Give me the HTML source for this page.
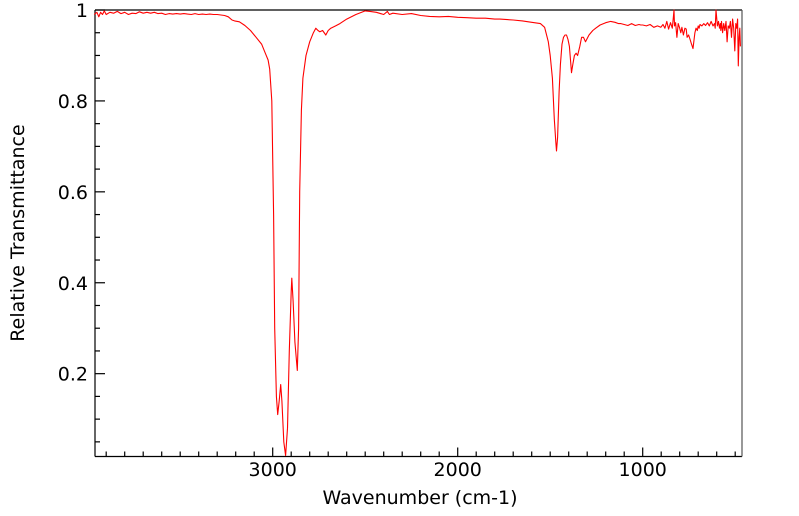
<!DOCTYPE html>
<html><head><meta charset="utf-8"><style>
html,body{margin:0;padding:0;background:#fff;}
svg{display:block;font-family:"DejaVu Sans","Liberation Sans",sans-serif;}
</style></head><body>
<svg id="chart" width="799" height="516">
<g id="axes"></g>
<path id="series" fill="none" stroke="#ff0000" stroke-width="1.1" stroke-linejoin="round"></path>
<text x="420" y="504" text-anchor="middle" font-size="19">Wavenumber (cm-1)</text>
<text transform="translate(24,233) rotate(-90)" text-anchor="middle" font-size="19">Relative Transmittance</text>
</svg>
<script>
const wavenumbers=[3965,3950,3940,3930,3920,3910,3900,3880,3860,3840,3820,3800,3780,3760,3740,3720,3700,3680,3660,3640,3620,3600,3580,3560,3540,3520,3500,3480,3460,3440,3420,3400,3380,3360,3340,3320,3300,3280,3260,3240,3220,3206,3180,3150,3120,3090,3060,3040,3025,3016,3005,2995,2989,2980,2973,2965,2957,2950,2940,2930,2920,2910,2900,2897,2890,2880,2867,2860,2854,2845,2837,2820,2800,2780,2767,2755,2745,2730,2713,2700,2686,2660,2637,2600,2550,2500,2474,2440,2400,2380,2369,2350,2300,2250,2200,2152,2100,2050,2000,1950,1900,1850,1800,1772,1700,1650,1600,1553,1530,1510,1500,1488,1478,1470,1466,1460,1452,1445,1436,1428,1420,1412,1404,1396,1390,1385,1378,1369,1360,1352,1340,1330,1320,1309,1290,1270,1254,1230,1200,1173,1150,1130,1118,1100,1080,1060,1040,1020,1010,1000,980,960,940,920,902,890,880,870,860,850,840,834,831,828,822,815,808,800,794,788,780,772,765,760,752,744,736,728,724,718,712,705,700,695,690,680,670,660,650,640,630,620,612,608,604,596,590,585,580,578,574,568,562,556,550,544,538,532,526,520,514,508,502,497,492,487,483,479,475,472,470,466,463,460,458];
const transmittance=[0.99,0.995,0.985,0.995,0.99,0.998,0.99,0.995,0.993,0.997,0.992,0.995,0.99,0.993,0.992,0.996,0.993,0.995,0.993,0.995,0.992,0.993,0.99,0.992,0.991,0.992,0.991,0.992,0.991,0.99,0.992,0.99,0.991,0.99,0.991,0.99,0.99,0.989,0.988,0.985,0.978,0.976,0.974,0.966,0.955,0.94,0.925,0.905,0.89,0.87,0.8,0.55,0.3,0.15,0.11,0.14,0.176,0.14,0.05,0.02,0.08,0.25,0.38,0.41,0.36,0.27,0.207,0.3,0.6,0.78,0.85,0.9,0.93,0.95,0.96,0.955,0.952,0.955,0.945,0.955,0.96,0.965,0.97,0.98,0.99,0.998,0.997,0.995,0.99,0.997,0.99,0.993,0.99,0.992,0.988,0.986,0.985,0.986,0.984,0.983,0.982,0.982,0.98,0.98,0.978,0.976,0.973,0.97,0.962,0.93,0.9,0.85,0.76,0.71,0.69,0.72,0.82,0.88,0.925,0.94,0.945,0.945,0.935,0.92,0.89,0.862,0.88,0.9,0.905,0.9,0.92,0.94,0.94,0.93,0.945,0.955,0.96,0.967,0.972,0.975,0.973,0.97,0.97,0.968,0.966,0.97,0.966,0.968,0.967,0.967,0.965,0.968,0.962,0.965,0.962,0.968,0.96,0.975,0.958,0.972,0.96,0.985,1.0,0.965,0.972,0.94,0.97,0.96,0.95,0.962,0.945,0.96,0.958,0.94,0.945,0.935,0.925,0.915,0.93,0.95,0.96,0.955,0.965,0.96,0.968,0.965,0.97,0.966,0.972,0.965,0.975,0.965,0.97,0.96,1.0,0.965,0.975,0.96,0.97,0.955,0.975,0.95,0.97,0.955,0.975,0.93,0.965,0.96,0.975,0.94,0.98,0.96,0.91,0.97,0.96,0.98,0.877,0.94,0.96,0.92];
const xTicks=[3000,2000,1000];
const yTicks=[0.2,0.4,0.6,0.8,1];
const yTickLabels=["0.2","0.4","0.6","0.8","1"];
const X0=95,X1=742,Y0=10,Y1=456.5;
function xs(w){return 272.7+(3000-w)*0.185;}
function ys(t){return 10+(1-t)*445.5/0.98;}
const NS="http://www.w3.org/2000/svg";
const axes=document.getElementById('axes');
function line(x1,y1,x2,y2,c,nm){const l=document.createElementNS(NS,'line');l.setAttribute('x1',x1);l.setAttribute('y1',y1);l.setAttribute('x2',x2);l.setAttribute('y2',y2);l.setAttribute('stroke',c||'#000');l.setAttribute('stroke-width','1.2');


axes.appendChild(l);}
function text(x,y,s,anchor,nm){const t=document.createElementNS(NS,'text');t.setAttribute('x',x);t.setAttribute('y',y);t.setAttribute('text-anchor',anchor);t.setAttribute('font-size','19');t.textContent=s;


axes.appendChild(t);}
line(X0,Y0,X1,Y0,'#000','top-border');
line(X0,Y0,X0,Y1,'#000','y-axis-line');
line(X0,Y1,X1,Y1,'#000','x-axis-line');
line(X1,Y0,X1,Y1,'#555','right-border');
for(let w=3900;w>=500;w-=100){const x=xs(w);if(x<X0||x>X1)continue;const major=w%1000===0;line(x,Y1,x,Y1-(major?9:5),'#000','x-tick');}
xTicks.forEach(w=>text(xs(w),476,String(w),'middle','x-tick-label'));
for(let i=1;i<=20;i++){const t=i*0.05;const y=ys(t);if(y>Y1)continue;const major=Math.abs((t*10)%2)<1e-6||Math.abs((t*10)%2-2)<1e-6;line(X0,y,X0+(major?10:5),y,'#000','y-tick');}
yTicks.forEach((t,i)=>text(88,ys(t)+7,yTickLabels[i],'end','y-tick-label'));
let d='';wavenumbers.forEach((w,i)=>{d+=(i?'L':'M')+xs(w).toFixed(1)+','+ys(transmittance[i]).toFixed(1);});
document.getElementById('series').setAttribute('d',d);
</script>
</body></html>
